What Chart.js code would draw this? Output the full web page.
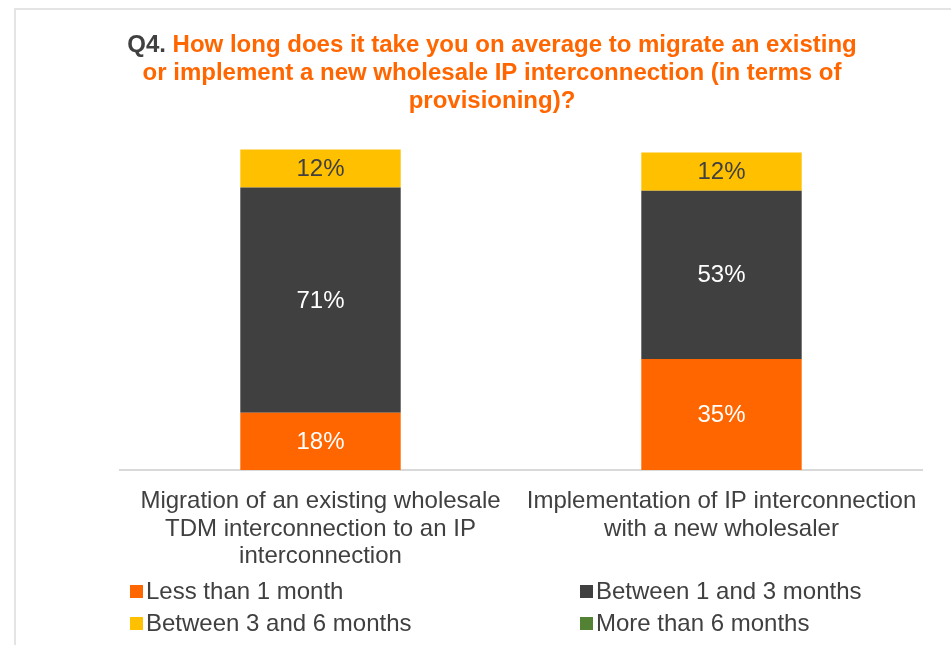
<!DOCTYPE html>
<html>
<head>
  <title>Q4 IP interconnection provisioning</title>
  <script src="https://cdn.jsdelivr.net/npm/chart.js"></script>
  <style>
    html, body { margin: 0; padding: 0; background: #ffffff; }
    #wrap { position: relative; width: 951px; height: 645px; }
    #frame {
      position: absolute; left: 14px; top: 8px; right: -5px; bottom: -5px;
      border-left: 2px solid #e4e4e4; border-top: 2px solid #e4e4e4;
    }
    canvas { position: absolute; left: 0; top: 0; }
  </style>
</head>
<body>
  <div id="wrap">
    <div id="frame"></div>
    <canvas id="q4Chart" width="951" height="645"></canvas>
  </div>

  <script>
    const categories = [
      ['Migration of an existing wholesale', 'TDM interconnection to an IP', 'interconnection'],
      ['Implementation of IP interconnection', 'with a new wholesaler']
    ];
    const lessThan1Month = [18, 35];
    const between1And3Months = [71, 53];
    const between3And6Months = [12, 12];
    const moreThan6Months = [0, 0];

    const titlePrefix = 'Q4. ';
    const titleLines = [
      'How long does it take you on average to migrate an existing',
      'or implement a new wholesale IP interconnection (in terms of',
      'provisioning)?'
    ];

    const FONT = '"Liberation Sans", Arial, sans-serif';
    const ORANGE = '#ff6600';
    const DARK = '#404040';

    // title with a grey "Q4." and orange question text
    const titlePlugin = {
      id: 'q4Title',
      afterDraw(chart) {
        const ctx = chart.ctx;
        const cx = 492;
        ctx.save();
        ctx.font = 'bold 24px ' + FONT;
        ctx.textBaseline = 'middle';
        ctx.textAlign = 'left';
        titleLines.forEach((line, i) => {
          const y = 45 + i * 28;
          const pre = i === 0 ? titlePrefix : '';
          const w = ctx.measureText(pre + line).width;
          let x = cx - w / 2;
          if (pre) {
            ctx.fillStyle = DARK;
            ctx.fillText(pre, x, y);
            x += ctx.measureText(pre).width;
          }
          ctx.fillStyle = ORANGE;
          ctx.fillText(line, x, y);
        });
        ctx.restore();
      }
    };

    // percentage labels centred in each segment
    const valueLabels = {
      id: 'valueLabels',
      afterDatasetsDraw(chart) {
        const ctx = chart.ctx;
        ctx.save();
        ctx.font = '24px ' + FONT;
        ctx.textAlign = 'center';
        ctx.textBaseline = 'middle';
        chart.data.datasets.forEach((ds, di) => {
          chart.getDatasetMeta(di).data.forEach((bar, i) => {
            const v = ds.data[i];
            if (!v) return;
            ctx.fillStyle = ds.labelColor;
            ctx.fillText(v + '%', bar.x, (bar.y + bar.base) / 2 + 1);
          });
        });
        ctx.restore();
      }
    };

    // two-column legend under the category labels
    const legendGrid = {
      id: 'legendGrid',
      afterDraw(chart) {
        const ctx = chart.ctx;
        const cols = [130, 580];
        const rows = [591, 623];
        ctx.save();
        ctx.font = '24px ' + FONT;
        ctx.textBaseline = 'middle';
        ctx.textAlign = 'left';
        chart.data.datasets.forEach((ds, i) => {
          const x = cols[i % 2];
          const y = rows[Math.floor(i / 2)];
          ctx.fillStyle = ds.backgroundColor;
          ctx.fillRect(x, y - 6, 13, 13);
          ctx.fillStyle = DARK;
          ctx.fillText(ds.label, x + 16, y + 1);
        });
        ctx.restore();
      }
    };

    new Chart(document.getElementById('q4Chart'), {
      type: 'bar',
      data: {
        labels: categories,
        datasets: [
          { label: 'Less than 1 month', data: lessThan1Month, backgroundColor: ORANGE, labelColor: '#ffffff' },
          { label: 'Between 1 and 3 months', data: between1And3Months, backgroundColor: DARK, labelColor: '#ffffff' },
          { label: 'Between 3 and 6 months', data: between3And6Months, backgroundColor: '#ffc000', labelColor: DARK },
          { label: 'More than 6 months', data: moreThan6Months, backgroundColor: '#548235', labelColor: '#ffffff' }
        ]
      },
      options: {
        responsive: false,
        animation: false,
        categoryPercentage: 1,
        barPercentage: 0.4,
        clip: false,
        layout: { padding: { left: 120, right: 29, top: 151, bottom: 75 } },
        plugins: {
          legend: { display: false },
          title: { display: false },
          tooltip: { enabled: false }
        },
        scales: {
          x: {
            stacked: true,
            grid: { display: false },
            border: { display: true, color: '#d9d9d9', width: 2 },
            ticks: {
              color: DARK,
              font: { family: FONT, size: 24, lineHeight: 1.14 },
              padding: 10,
              maxRotation: 0
            },
            afterFit(scale) { scale.height = 100; }
          },
          y: {
            stacked: true,
            display: false,
            min: 0,
            max: 100.5
          }
        }
      },
      plugins: [titlePlugin, valueLabels, legendGrid]
    });
  </script>
</body>
</html>
